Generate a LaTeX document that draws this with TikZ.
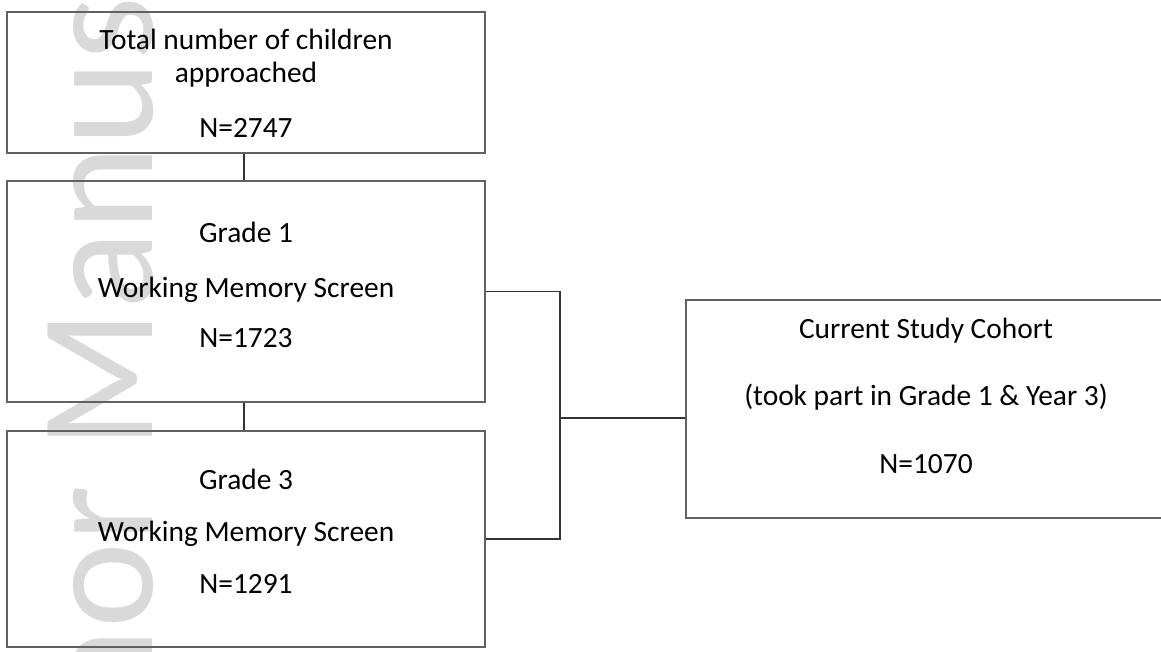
\documentclass[tikz,border=0pt]{standalone}
\usepackage{fontspec}
\setmainfont{Carlito}
\begin{document}
\begin{tikzpicture}[x=1pt,y=-1pt,
  box/.style={draw=black!62, line width=1.4pt, rectangle, inner sep=0pt},
  txt/.style={anchor=base, inner sep=0pt, font=\fontsize{29.4}{35}\selectfont},
  conn/.style={draw=black!80, line width=1.1pt},
  wm/.style={text=black!15, font=\fontsize{163}{190}\selectfont, rotate=90, anchor=base west, inner sep=0pt}]
\useasboundingbox (0,0) rectangle (1161,652);
\clip (0,0) rectangle (1161,652);
\fill[white] (0,0) rectangle (1161,652);
% watermark
\node[wm] (wmark) at (152,949) {Author Manuscript};
% boxes
\node[box, minimum width=478pt, minimum height=141pt] (b1) at (246,82.5) {};
\node[box, minimum width=478pt, minimum height=221pt] (b2) at (246,291.5) {};
\node[box, minimum width=478pt, minimum height=216pt] (b3) at (246,539) {};
\node[box, minimum width=480pt, minimum height=218pt] (b4) at (926,409) {};
% texts
\node[txt] (b1a) at (246,50) {Total number of children};
\node[txt] (b1b) at (246,83) {approached};
\node[txt] (b1c) at (246,138) {N=2747};
\node[txt] (b2a) at (246,243) {Grade 1};
\node[txt] (b2b) at (246,297) {Working Memory Screen};
\node[txt] (b2c) at (246,347) {N=1723};
\node[txt] (b3a) at (246,489) {Grade 3};
\node[txt] (b3b) at (246,541) {Working Memory Screen};
\node[txt] (b3c) at (246,593) {N=1291};
\node[txt] (b4a) at (926,338) {Current Study Cohort};
\node[txt] (b4b) at (926,405) {(took part in Grade 1 \& Year 3)};
\node[txt] (b4c) at (926,473) {N=1070};
% connectors
\coordinate (j) at (560,418);
\draw[conn] ([xshift=-2pt]b1.south) -- ([xshift=-2pt]b2.north);
\draw[conn] ([xshift=-2pt]b2.south) -- ([xshift=-2pt]b3.north);
\draw[conn] (b2.east) -| (j) |- (b3.east);
\draw[conn] (j) -- (j -| b4.west);
\end{tikzpicture}
\end{document}
